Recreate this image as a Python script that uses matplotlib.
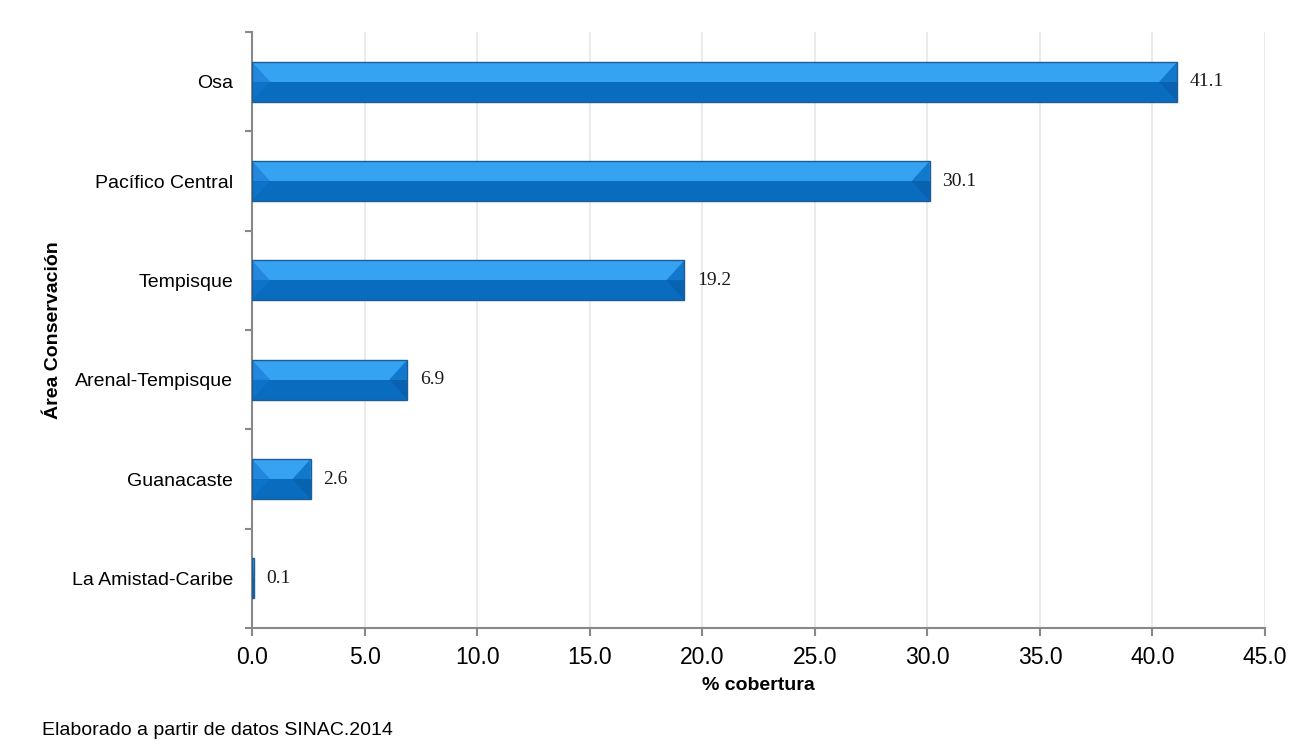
import matplotlib.pyplot as plt
from matplotlib.patches import Polygon, Rectangle

# data
areas = ['Osa', 'Pacífico Central', 'Tempisque', 'Arenal-Tempisque',
         'Guanacaste', 'La Amistad-Caribe']
cobertura = [41.1, 30.1, 19.2, 6.9, 2.6, 0.1]
xticks = [0, 5, 10, 15, 20, 25, 30, 35, 40, 45]

plt.rcParams['font.family'] = ['Liberation Sans', 'DejaVu Sans']

fig = plt.figure(figsize=(13.07, 7.55), dpi=100)
ax = fig.add_axes([0.1928, 0.1682, 0.7751, 0.7894])

n = len(areas)
ypos = list(range(n))[::-1]
h = 0.4
light = '#35a2f2'
dark = '#0a6cbf'
edge = '#1d5d94'

for y, v in zip(ypos, cobertura):
    top = y + h / 2
    bot = y - h / 2
    ax.add_patch(Rectangle((0, bot), v, h, facecolor=dark, edgecolor='none', zorder=3))
    ax.add_patch(Rectangle((0, y), v, h / 2, facecolor=light, edgecolor='none', zorder=3))
    dx = min(0.8, v / 2)
    # left bevel
    ax.add_patch(Polygon([(0, top), (dx, y), (0, y)], closed=True, facecolor='#2486dc',
                         edgecolor='none', zorder=4))
    ax.add_patch(Polygon([(0, y), (dx, y), (0, bot)], closed=True, facecolor='#0d73c8',
                         edgecolor='none', zorder=4))
    # right bevel
    ax.add_patch(Polygon([(v, top), (v - dx, y), (v, y)], closed=True, facecolor='#1278cc',
                         edgecolor='none', zorder=4))
    ax.add_patch(Polygon([(v, y), (v - dx, y), (v, bot)], closed=True, facecolor='#0862b0',
                         edgecolor='none', zorder=4))
    ax.add_patch(Rectangle((0, bot), v, h, facecolor='none', edgecolor=edge, lw=1, zorder=5))
    ax.annotate(f'{v:.1f}', (v, y), xytext=(9, 0), textcoords='offset points',
                va='center', ha='left', fontsize=14, family='Liberation Serif', color='#1a1a1a')

ax.set_xlim(0, 45)
ax.set_ylim(-0.5, n - 0.5)
ax.set_xticks(xticks)
ax.set_xticklabels([f'{t:.1f}' for t in xticks], fontsize=16.5)
ax.set_yticks(ypos)
ax.set_yticklabels(areas, fontsize=14)
ax.tick_params(axis='y', length=0, pad=13.5)
ax.set_yticks([i - 0.5 for i in range(n + 1)], minor=True)
ax.tick_params(axis='y', which='minor', length=5, color='#888888', width=1.5)
ax.tick_params(axis='x', length=6, color='#888888', width=1.5, pad=7)

ax.grid(axis='x', color='#e8e8e8', lw=1.2, zorder=0)
ax.set_axisbelow(True)
for s in ['top', 'right']:
    ax.spines[s].set_visible(False)
for s in ['left', 'bottom']:
    ax.spines[s].set_color('#888888')
    ax.spines[s].set_linewidth(1.5)

ax.set_xlabel('% cobertura', fontsize=14, fontweight='bold', labelpad=6)
ax.set_ylabel('Área Conservación', fontsize=14, fontweight='bold', labelpad=7)

fig.text(0.032, 0.0265, 'Elaborado a partir de datos SINAC.2014', fontsize=14, va='baseline')

fig.savefig('out.png', dpi=100)
